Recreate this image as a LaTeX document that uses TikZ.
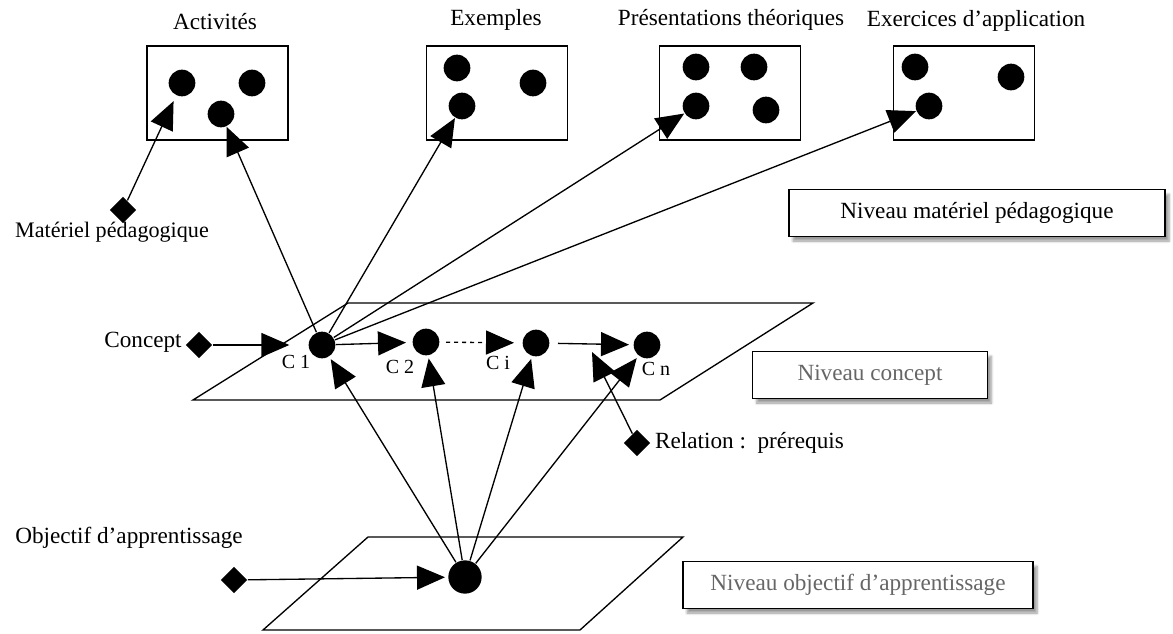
\documentclass[tikz,border=0pt]{standalone}
\usepackage{fontspec}
\setmainfont{Liberation Serif}
\usetikzlibrary{arrows.meta,shapes.geometric,shadows.blur}

\begin{document}
\begin{tikzpicture}[x=0.75pt,y=-0.75pt,line width=1pt,
  font=\fontsize{17.4}{20}\selectfont,
  arr/.style={-{Triangle[length=21pt,width=18pt]}},
  dot/.style={circle,fill=black,inner sep=0pt,minimum size=20pt},
  bigdot/.style={dot,minimum size=25pt},
  lozenge/.style={diamond,fill=black,inner sep=0pt,minimum size=20pt},
  panel/.style={draw,minimum width=105.75pt,minimum height=70.5pt},
  level/.style={draw,fill=white,minimum height=35pt,
    blur shadow={shadow xshift=3pt,shadow yshift=-3.5pt,shadow blur steps=6}},
  clabel/.style={font=\fontsize{15}{17}\selectfont}]
\useasboundingbox (0,0) rectangle (1173,634);
\node[panel] (act) at (217.5,93) {};
\node[panel] (ex) at (497,93) {};
\node[panel] (pres) at (730,93) {};
\node[panel] (exo) at (964,93) {};
\node (tact) at (215,22) {Activités};
\node (tex) at (496,20) {Exemples};
\node (tpres) at (731,20) {Présentations théoriques};
\node (texo) at (976,21) {Exercices d’application};
\node[dot] (act1) at (182,83) {};
\node[dot] (act2) at (252,83) {};
\node[dot] (act3) at (221,114) {};
\node[dot] (ex1) at (457,68) {};
\node[dot] (ex2) at (533,83) {};
\node[dot] (ex3) at (462,106) {};
\node[dot] (pres1) at (696,67) {};
\node[dot] (pres2) at (754,67) {};
\node[dot] (pres3) at (696,106) {};
\node[dot] (pres4) at (766,110) {};
\node[dot] (exo1) at (915,67) {};
\node[dot] (exo2) at (1011,77) {};
\node[dot] (exo3) at (929,106) {};
\node[level,minimum width=282pt] (lvmat) at (977,213) {Niveau matériel pédagogique};
\node[lozenge] (matin) at (123,210) {};
\node[font=\fontsize{16.6}{19}\selectfont] (tmat) at (112,232) {Matériel pédagogique};
\draw (193,400) -- (348,303) -- (813,303) -- (660,400) -- cycle;
\draw (263,630) -- (368,537) -- (683,537) -- (580,630) -- cycle;
\node[level,minimum width=176pt,text=black!60] (lvcon) at (870,375) {Niveau concept};
\node[level,minimum width=262.5pt,text=black!60] (lvobj) at (858,585) {Niveau objectif d’apprentissage};
\node[dot] (c1) at (322,345) {};
\node[dot] (c2) at (426,342) {};
\node[dot] (ci) at (536,343) {};
\node[dot] (cn) at (647,345) {};
\node[clabel] (lc1) at (296,362) {C 1};
\node[clabel] (lc2) at (400,367) {C 2};
\node[clabel] (lci) at (498,363) {C i};
\node[clabel] (lcn) at (656,369) {C n};
\node (tcon) at (143,342) {Concept};
\node[lozenge] (conin) at (199,345) {};
\node[bigdot] (obj) at (465,577) {};
\node (tobj) at (129,538) {Objectif d’apprentissage};
\node[lozenge] (objin) at (234,580) {};
\node[lozenge] (relin) at (637,443) {};
\node[anchor=west] (trel) at (650,443) {Relation :\ \ prérequis};
\coordinate (prq) at (592,352);
\draw[arr,shorten >=4.5pt] (matin) -- (act1);
\draw[arr] (c1) -- (act3);
\draw[arr] (c1) -- (ex3);
\draw[arr] (c1) -- (pres3);
\draw[arr] (c1) -- (exo3);
\draw[arr,shorten >=14pt] (conin) -- (c1);
\draw[arr,shorten >=4.5pt] (c1) -- (c2);
\draw[arr,dashed,shorten <=4.5pt,shorten >=6pt] (c2) -- (ci);
\draw[arr,shorten <=6pt,shorten >=3pt] (ci) -- (cn);
\draw[arr] (relin) -- (prq);
\draw[arr,shorten >=2pt] (objin) -- (obj);
\draw[arr,shorten >=2pt] (obj) -- (c1);
\draw[arr,shorten >=2pt] (obj) -- (c2);
\draw[arr,shorten >=2pt] (obj) -- (ci);
\draw[arr,shorten >=2pt] (obj) -- (cn);
\end{tikzpicture}
\end{document}
